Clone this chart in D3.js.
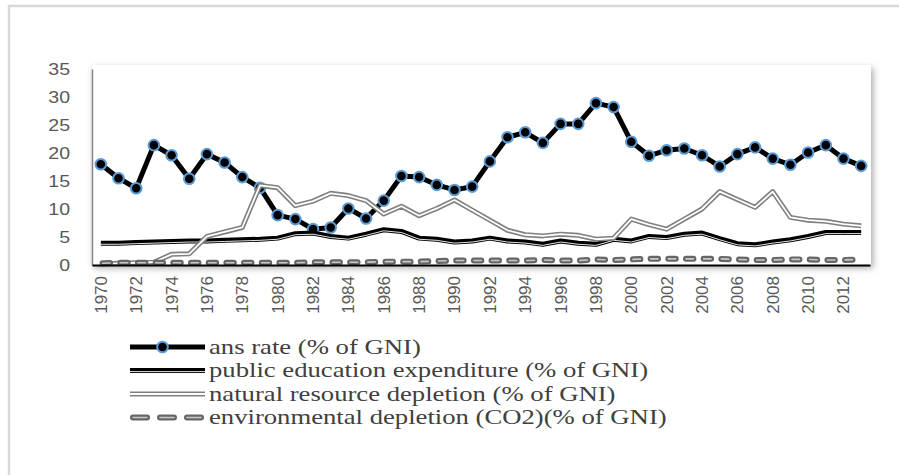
<!DOCTYPE html>
<html>
<head>
<meta charset="utf-8">
<script src="https://cdn.jsdelivr.net/npm/d3@7"></script>
<style>
  html, body { margin: 0; padding: 0; background: #fff; }
  svg { display: block; }
</style>
</head>
<body>
<div id="chart"></div>
<script>
// years on the category axis
const years = d3.range(1970, 2014);

// series values, % of GNI
const ansRate = [18.0, 15.5, 13.7, 21.4, 19.6, 15.4, 19.8, 18.3, 15.7, 13.8,
  8.9, 8.2, 6.4, 6.7, 10.1, 8.3, 11.5, 15.9, 15.7, 14.3,
  13.4, 14.0, 18.5, 22.8, 23.7, 21.8, 25.2, 25.2, 28.9, 28.2,
  22.0, 19.5, 20.5, 20.8, 19.6, 17.6, 19.8, 21.0, 19.0, 17.9,
  20.1, 21.4, 19.0, 17.7];
const eduExp = [3.9, 3.9, 4.0, 4.1, 4.2, 4.3, 4.3, 4.4, 4.5, 4.6,
  4.8, 5.6, 5.7, 5.1, 4.8, 5.5, 6.3, 6.0, 4.8, 4.6,
  4.1, 4.3, 4.8, 4.3, 4.1, 3.7, 4.3, 3.9, 3.7, 4.6,
  4.3, 5.1, 4.9, 5.5, 5.7, 4.7, 3.8, 3.6, 4.1, 4.5,
  5.1, 5.8, 5.8, 5.8];
const natDep = [0.2, 0.3, 0.4, 0.5, 1.9, 2.0, 5.1, 5.9, 6.7, 14.2,
  13.8, 10.6, 11.4, 12.8, 12.4, 11.5, 9.1, 10.5, 8.8, 10.1,
  11.6, 9.8, 8.0, 6.2, 5.4, 5.2, 5.5, 5.3, 4.6, 4.8,
  8.2, 7.2, 6.4, 8.2, 10.0, 13.1, 11.7, 10.3, 13.1, 8.5,
  8.0, 7.8, 7.3, 7.0];
const envDep = [0.3, 0.4, 0.4, 0.4, 0.4, 0.4, 0.4, 0.4, 0.4, 0.4,
  0.4, 0.4, 0.5, 0.5, 0.5, 0.5, 0.6, 0.6, 0.6, 0.7,
  0.8, 0.8, 0.8, 0.8, 0.8, 0.9, 0.8, 0.8, 1.0, 0.9,
  1.0, 1.1, 1.1, 1.1, 1.1, 1.1, 1.0, 0.9, 0.9, 1.0,
  1.0, 0.9, 0.9, 1.0];

const yTicks = [0, 5, 10, 15, 20, 25, 30, 35];
const seriesNames = [
  "ans rate (% of GNI)",
  "public education expenditure (% of GNI)",
  "natural resource depletion (% of GNI)",
  "environmental depletion (CO2)(% of GNI)"
];

const W = 899, H = 475;
const plot = { left: 92, right: 871, top: 69, bottom: 265 };

const svg = d3.select("#chart").append("svg")
  .attr("width", W)
  .attr("height", H);

const defs = svg.append("defs");
const shadow = defs.append("filter").attr("id", "shadow")
  .attr("x", "-5%").attr("y", "-10%").attr("width", "110%").attr("height", "125%");
shadow.append("feGaussianBlur").attr("in", "SourceAlpha").attr("stdDeviation", 3.5);
shadow.append("feOffset").attr("dx", 2).attr("dy", 3).attr("result", "blur");
shadow.append("feComponentTransfer").append("feFuncA").attr("type", "linear").attr("slope", 0.35);
const merge = shadow.append("feMerge");
merge.append("feMergeNode");
merge.append("feMergeNode").attr("in", "SourceGraphic");

// outer frame (only top and left edges are visible)
svg.append("rect")
  .attr("x", 9).attr("y", 6)
  .attr("width", 1200).attr("height", 1200)
  .attr("fill", "none")
  .attr("stroke", "#d9d9d9")
  .attr("stroke-width", 2.5);

// plot area with soft shadow
svg.append("rect")
  .attr("x", plot.left).attr("y", plot.top - 4)
  .attr("width", plot.right - plot.left)
  .attr("height", plot.bottom - plot.top + 4)
  .attr("fill", "#fff")
  .attr("filter", "url(#shadow)");

/** scales */
const x = d3.scaleBand()
  .domain(years)
  .range([plot.left, plot.right - 1])
  .padding(0);
const cx = d => x(d) + x.bandwidth() / 2;

const y = d3.scaleLinear()
  .domain([0, 35])
  .range([plot.bottom, plot.top]);

/** y axis */
const yAxis = svg.append("g")
  .attr("transform", "translate(" + plot.left + ",0)")
  .call(d3.axisLeft(y).tickValues(yTicks).tickSize(0).tickPadding(22));
yAxis.select(".domain").attr("stroke", "#868686").attr("stroke-width", 1.5);
yAxis.selectAll("text")
  .attr("fill", "#595959")
  .style("font-family", "'Liberation Sans', Arial, sans-serif")
  .style("font-size", "17px")
  .attr("transform", function() {
    // slightly wider glyphs, anchored at the right edge
    const tx = +d3.select(this).attr("x");
    return "translate(" + tx + ",0) scale(1.15,1) translate(" + (-tx) + ",0)";
  });

/** lines */
const line = d3.line()
  .x((d, i) => cx(years[i]))
  .y(d => y(d));

const lines = svg.append("g").attr("id", "lines");

// ans rate: thick black with markers
lines.append("path")
  .datum(ansRate)
  .attr("d", line)
  .attr("fill", "none")
  .attr("stroke", "#000")
  .attr("stroke-width", 5)
  .attr("stroke-linejoin", "round");
lines.selectAll("circle.ans")
  .data(ansRate)
  .enter().append("circle")
  .attr("class", "ans")
  .attr("cx", (d, i) => cx(years[i]))
  .attr("cy", d => y(d))
  .attr("r", 5.3)
  .attr("fill", "#000")
  .attr("stroke", "#5b9bd5")
  .attr("stroke-width", 2);

// public education: thick-thin black compound line
function eduLine(g, data, lineFn) {
  g.append("path").datum(data).attr("d", lineFn)
    .attr("fill", "none").attr("stroke", "#000").attr("stroke-width", 5)
    .attr("stroke-linejoin", "round");
  g.append("path").datum(data).attr("d", lineFn)
    .attr("transform", "translate(0,1.1)")
    .attr("fill", "none").attr("stroke", "#fff").attr("stroke-width", 0.9)
    .attr("stroke-linejoin", "round");
}
// natural resource: gray double line
function natLine(g, data, lineFn) {
  g.append("path").datum(data).attr("d", lineFn)
    .attr("fill", "none").attr("stroke", "#7f7f7f").attr("stroke-width", 5)
    .attr("stroke-linejoin", "round");
  g.append("path").datum(data).attr("d", lineFn)
    .attr("fill", "none").attr("stroke", "#fff").attr("stroke-width", 1.8)
    .attr("stroke-linejoin", "round");
}
// environmental: dashed gray double line
function envLine(g, data, lineFn, dash, offset) {
  g.append("path").datum(data).attr("d", lineFn)
    .attr("fill", "none").attr("stroke", "#666").attr("stroke-width", 6)
    .attr("stroke-linecap", "round")
    .attr("stroke-dasharray", dash).attr("stroke-dashoffset", offset);
  g.append("path").datum(data).attr("d", lineFn)
    .attr("fill", "none").attr("stroke", "#c8c8c8").attr("stroke-width", 1.6)
    .attr("stroke-linecap", "round")
    .attr("stroke-dasharray", dash).attr("stroke-dashoffset", offset);
}

const bw = x.bandwidth();
eduLine(lines, eduExp, line);
natLine(lines, natDep, line);
envLine(lines, envDep, line, (bw * 0.42) + "," + (bw * 0.58), -bw * 0.1);

/** x axis */
const xAxis = svg.append("g")
  .attr("transform", "translate(0," + plot.bottom + ")")
  .call(d3.axisBottom(x)
    .tickValues(years.filter(d => d % 2 === 0))
    .tickSize(0));
xAxis.select(".domain").attr("stroke", "#000").attr("stroke-width", 2);
xAxis.selectAll("text")
  .attr("fill", "#595959")
  .style("font-family", "'Liberation Sans', Arial, sans-serif")
  .style("font-size", "17px")
  .attr("text-anchor", "end")
  .attr("dy", null)
  .attr("y", 0)
  .attr("transform", "translate(6,11) rotate(-90)");

/** legend */
const legend = svg.append("g").attr("id", "legend");
const legX0 = 130, legX1 = 205, legY0 = 347, legStep = 23.5;
const legLine = d3.line().x(d => d[0]).y(d => d[1]);

seriesNames.forEach((name, i) => {
  const ly = legY0 + i * legStep;
  const g = legend.append("g");
  const pts = [[legX0, ly], [legX1, ly]];
  if (i === 0) {
    g.append("path").datum(pts).attr("d", legLine)
      .attr("stroke", "#000").attr("stroke-width", 5).attr("fill", "none");
    g.append("circle").attr("cx", (legX0 + legX1) / 2 - 5).attr("cy", ly)
      .attr("r", 5.3).attr("fill", "#000")
      .attr("stroke", "#5b9bd5").attr("stroke-width", 2);
  } else if (i === 1) {
    eduLine(g, pts, legLine);
  } else if (i === 2) {
    natLine(g, pts, legLine);
  } else {
    envLine(g, [[legX0 + 3, ly], [legX1 - 3, ly]], legLine, "14,13", 0);
  }
  g.append("text")
    .attr("x", 0)
    .attr("y", 0)
    .attr("transform", "translate(" + (legX1 + 4) + "," + (ly + 6.5) + ") scale(1.27,1)")
    .attr("fill", "#404040")
    .style("font-family", "'Liberation Serif', 'Times New Roman', serif")
    .style("font-size", "21px")
    .text(name);
});
</script>
</body>
</html>
